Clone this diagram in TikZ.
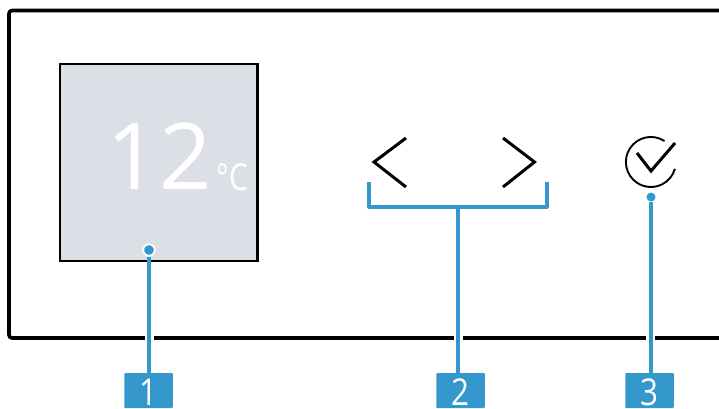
\documentclass[tikz,border=0pt]{standalone}
\usepackage{fontspec}
\setmainfont{Open Sans}
\definecolor{callout}{HTML}{3598CC}
\definecolor{panel}{HTML}{DCDFE6}
\tikzset{
  frameline/.style={draw=black,line width=3.6pt,line join=round},
  calloutline/.style={draw=callout,line width=3.2pt},
  halo/.style={draw=white,line width=9pt},
  icon/.style={draw=black,line width=3pt},
  dot/.style={circle,fill=callout,draw=white,line width=1.8pt,inner sep=0pt,minimum size=11.5pt},
  badge/.style={fill=callout,inner sep=0pt,minimum width=48.5pt,minimum height=35pt,rounded corners=0.8pt},
  badgetext/.style={text=white,inner sep=0pt,anchor=base,xscale=0.85,font=\fontsize{37}{37}\selectfont},
}
\begin{document}
\begin{tikzpicture}[x=1pt,y=-1pt]
\useasboundingbox (0,0) rectangle (719,408);
\fill[white] (0,0) rectangle (719,408);
% housing
\draw[frameline,rounded corners=3pt] (723,10.5) -- (9,10.5) -- (9,338) -- (723,338);
% display
\node[draw=black,line width=2.2pt,fill=panel,minimum width=197.5pt,minimum height=197pt,inner sep=0pt] (display) at (158.7,162.5) {};
\node[text=white,font=\fontsize{92}{92}\selectfont,inner sep=0pt,anchor=base] (temp) at (159,189) {12};
\node[text=white,font=\fontsize{37}{37}\selectfont,inner sep=0pt,anchor=base,xscale=0.8] (unit) at (232.5,190.5) {°C};
% keys
\draw[icon] (406,138) -- (374,162) -- (406,187);
\draw[icon] (503,138) -- (534.5,162) -- (503,187);
\draw[draw=black,line width=1.9pt] (664.5,141) arc[start angle=-57,end angle=-344,radius=25];
\draw[icon] (637,153) -- (651,171) -- (675,143);
% callouts
\node[dot] (d1) at (149,250) {};
\coordinate (b2) at (458,207);
\node[circle,fill=callout,inner sep=0pt,minimum size=9pt] (d3) at (651,197) {};
\node[badge] (n1) at (148.5,390.5) {};
\node[badge] (n2) at (460.5,390.5) {};
\node[badge] (n3) at (649.5,390.5) {};
\node[badgetext] (t1) at (148.5,405.5) {1};
\node[badgetext] (t2) at (460.5,405.5) {2};
\node[badgetext] (t3) at (649.5,405.5) {3};
\foreach \x in {149,458,650.5}{\draw[halo,line cap=butt] (\x,335) -- (\x,341);}
\draw[calloutline] (d1) -- (n1.north -| d1);
\draw[calloutline] (b2) -- (n2.north -| b2);
\draw[calloutline] (d3) -- (n3.north -| d3);
\draw[calloutline,line join=round] (369,182) -- (369,207) -- (547,207) -- (547,182);
\end{tikzpicture}
\end{document}
